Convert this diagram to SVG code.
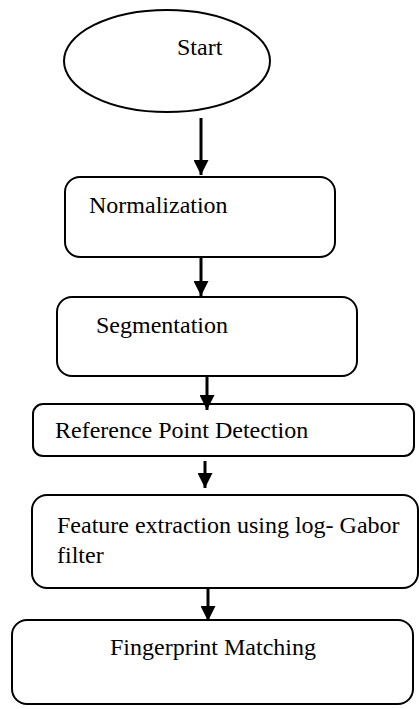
<svg xmlns="http://www.w3.org/2000/svg" width="419" height="709" viewBox="0 0 419 709">
  <style>
    .shape { fill: #ffffff; stroke: #000000; stroke-width: 2; }
    .label { font-family: "Liberation Serif", "Times New Roman", serif; font-size: 24px; fill: #000000; }
    .conn { stroke: #000000; stroke-width: 3; fill: none; marker-end: url(#arrow); }
  </style>
  <defs>
    <marker id="arrow" viewBox="0 0 10 10" refX="10" refY="5" markerUnits="userSpaceOnUse" markerWidth="15" markerHeight="15" orient="auto">
      <path d="M0,0 L10,5 L0,10 Z" fill="#000000"/>
    </marker>
  </defs>
  <rect width="419" height="709" fill="#ffffff"/>

  <g id="start">
    <ellipse class="shape" cx="167" cy="61" rx="103" ry="51"/>
    <text class="label" x="177" y="55">Start</text>
  </g>

  <g id="normalization">
    <rect class="shape" x="65" y="177" width="270" height="80" rx="15"/>
    <text class="label" x="89" y="213">Normalization</text>
  </g>

  <g id="segmentation">
    <rect class="shape" x="57" y="297" width="300" height="79" rx="15"/>
    <text class="label" x="96" y="333">Segmentation</text>
  </g>

  <g id="reference-point">
    <rect class="shape" x="33" y="404" width="381" height="52" rx="10"/>
    <text class="label" x="55" y="438">Reference Point Detection</text>
  </g>

  <g id="feature-extraction">
    <rect class="shape" x="32" y="495" width="386" height="93" rx="15"/>
    <text class="label" x="57" y="533">Feature extraction using log- Gabor</text>
    <text class="label" x="57" y="563">filter</text>
  </g>

  <g id="matching">
    <rect class="shape" x="12" y="620" width="401" height="84" rx="15"/>
    <text class="label" x="110" y="655">Fingerprint Matching</text>
  </g>

  <g id="connectors">
    <line class="conn" x1="201" y1="118" x2="201" y2="175"/>
    <line class="conn" x1="201" y1="257" x2="201" y2="296"/>
    <line class="conn" x1="207" y1="376" x2="207" y2="410"/>
    <line class="conn" x1="205" y1="461" x2="205" y2="488"/>
    <line class="conn" x1="208" y1="588" x2="208" y2="621"/>
  </g>
</svg>
